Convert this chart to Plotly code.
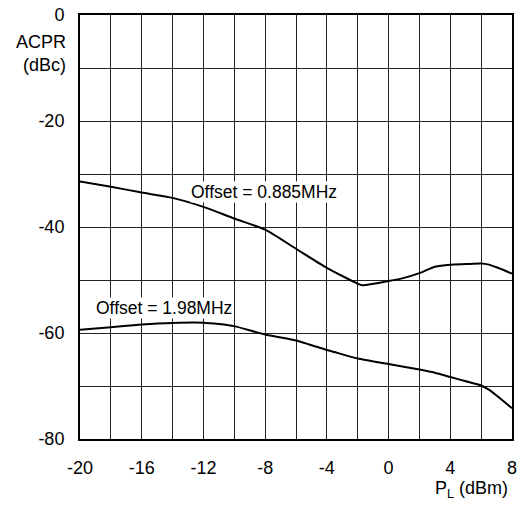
import plotly.graph_objects as go

# Offset = 0.885MHz
x_885 = [-20, -18, -16, -14, -12, -10, -8, -6, -4, -2, -1.7, 0, 1, 2, 3, 4, 5, 6, 6.5, 7, 8]
y_885 = [-31.4, -32.4, -33.5, -34.5, -36.2, -38.4, -40.5, -44.1, -47.7, -50.7, -51.0, -50.2, -49.6, -48.7, -47.5, -47.1, -47.0, -46.9, -47.1, -47.6, -48.8]

# Offset = 1.98MHz
x_198 = [-20, -18, -16, -14, -12, -11, -10, -8, -6, -4, -3.5, -2, 0, 2, 3, 4, 5, 6, 6.5, 7, 8]
y_198 = [-59.4, -58.9, -58.4, -58.1, -58.05, -58.3, -58.7, -60.3, -61.4, -63.2, -63.6, -64.8, -65.85, -66.9, -67.5, -68.3, -69.1, -69.9, -70.7, -71.8, -74.2]

x_ticks = list(range(-20, 9, 2))
x_labels = [str(v) if v % 4 == 0 else "" for v in x_ticks]
y_ticks = list(range(-80, 1, 10))
y_labels = [str(v) if v % 20 == 0 else "" for v in y_ticks]

label_885 = "Offset = 0.885MHz"
label_198 = "Offset = 1.98MHz"

FONT = "Liberation Sans, Arial, Helvetica, sans-serif"

fig = go.Figure()
fig.add_trace(go.Scatter(x=x_885, y=y_885, mode="lines", line_shape="spline",
                         line=dict(color="black", width=2, smoothing=0.6), showlegend=False))
fig.add_trace(go.Scatter(x=x_198, y=y_198, mode="lines", line_shape="spline",
                         line=dict(color="black", width=2, smoothing=0.6), showlegend=False))

fig.add_annotation(x=-12.9, y=-33.4, text=label_885, showarrow=False,
                   xanchor="left", yanchor="middle", bgcolor="white", borderpad=0,
                   font=dict(size=17.5, color="black", family=FONT))
fig.add_annotation(x=-19.0, y=-55.3, text=label_198, showarrow=False,
                   xanchor="left", yanchor="middle", bgcolor="white", borderpad=0,
                   font=dict(size=17.5, color="black", family=FONT))

fig.add_annotation(xref="paper", yref="paper", x=(68 - 80) / 432, y=(439 - 42) / 424,
                   text="ACPR", showarrow=False, xanchor="right", yanchor="middle",
                   font=dict(size=18, color="black", family=FONT))
fig.add_annotation(xref="paper", yref="paper", x=(68 - 80) / 432, y=(439 - 65) / 424,
                   text="(dBc)", showarrow=False, xanchor="right", yanchor="middle",
                   font=dict(size=18, color="black", family=FONT))
fig.add_annotation(xref="paper", yref="paper", x=(510 - 80) / 432, y=(439 - 489) / 424,
                   text="P<sub>L</sub> (dBm)", showarrow=False, xanchor="right", yanchor="middle",
                   font=dict(size=18, color="black", family=FONT))

fig.update_layout(
    width=524, height=506,
    margin=dict(l=80, r=12, t=15, b=67, autoexpand=False),
    paper_bgcolor="white", plot_bgcolor="white",
    font=dict(family=FONT, size=18, color="black"),
    xaxis=dict(range=[-20, 8], tickvals=x_ticks, ticktext=x_labels,
               showgrid=True, gridcolor="#222222", gridwidth=1,
               showline=True, linecolor="black", linewidth=2, mirror=True,
               zeroline=False, ticks="", ticklabelstandoff=11, automargin=False,
               ticklabeloverflow="allow", tickfont=dict(size=18)),
    yaxis=dict(range=[-80, 0], tickvals=y_ticks, ticktext=y_labels,
               showgrid=True, gridcolor="#222222", gridwidth=1,
               showline=True, linecolor="black", linewidth=2, mirror=True,
               zeroline=False, ticks="", ticklabelstandoff=10, automargin=False,
               ticklabeloverflow="allow", tickfont=dict(size=18)),
)

fig.write_html("out.html", config={"displayModeBar": False},
               post_script="document.body.style.margin='0';document.body.style.overflow='hidden';")
